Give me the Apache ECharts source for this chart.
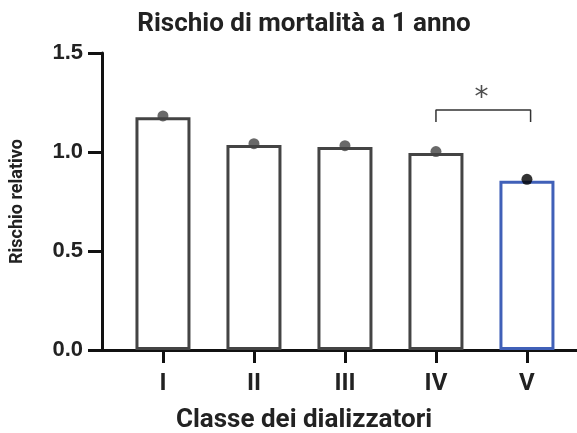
<!DOCTYPE html>
<html>
<head>
<meta charset="utf-8">
<script src="https://cdn.jsdelivr.net/npm/echarts@6/dist/echarts.min.js"></script>
<style>
  html, body { margin: 0; padding: 0; background: #fff; }
  #chart { width: 577px; height: 433px; }
</style>
</head>
<body>
<div id="chart"></div>
<script>
var categories = ['I', 'II', 'III', 'IV', 'V'];
var barValues = [1.175, 1.035, 1.025, 0.995, 0.855];
var pointValues = [1.182, 1.042, 1.032, 1.002, 0.862];
var bracket = [[3, 1.152], [3, 1.212], [4.04, 1.212], [4.04, 1.152]];
var starPos = [3.5, 1.27];

var gray = '#444';
var blue = '#4060b8';

var chart = echarts.init(document.getElementById('chart'));

var barData = barValues.map(function (v, i) {
    return {
        value: [i, v],
        itemStyle: { borderColor: i === 4 ? blue : gray }
    };
});
var dotData = pointValues.map(function (v, i) {
    return {
        value: [i, v],
        itemStyle: { color: i === 4 ? '#000' : gray }
    };
});

chart.setOption({
    animation: false,
    title: [{
        text: 'Rischio di mortalità a 1 anno',
        left: 304, top: 11, textAlign: 'center', padding: 0,
        textStyle: { fontFamily: 'Roboto', fontWeight: 'bold', fontSize: 26, color: '#222' }
    }, {
        text: 'Classe dei dializzatori',
        left: 304, top: 407, textAlign: 'center', padding: 0,
        textStyle: { fontFamily: 'Roboto', fontWeight: 'bold', fontSize: 26, color: '#222' }
    }],
    grid: { left: 101, right: 0, top: 53, bottom: 83 },
    xAxis: {
        type: 'value',
        min: -0.67, max: 4.55,
        splitLine: { show: false },
        axisLine: { show: true, onZero: false, lineStyle: { color: '#111', width: 3 } },
        axisTick: { show: true, customValues: [0, 1, 2, 3, 4], length: 13, lineStyle: { color: '#111', width: 3 } },
        axisLabel: {
            customValues: [0, 1, 2, 3, 4],
            formatter: function (v) { return categories[Math.round(v)]; },
            margin: 22,
            fontFamily: 'Roboto', fontWeight: 'bold', fontSize: 24, color: '#222'
        }
    },
    yAxis: {
        type: 'value',
        position: 'left',
        min: 0, max: 1.5, interval: 0.5,
        name: 'Rischio relativo',
        nameLocation: 'middle',
        nameGap: 76,
        nameTextStyle: { fontFamily: 'Roboto', fontWeight: 'bold', fontSize: 18, color: '#222' },
        splitLine: { show: false },
        axisLine: { show: true, onZero: false, lineStyle: { color: '#111', width: 3 } },
        axisTick: { show: true, length: 14, lineStyle: { color: '#111', width: 3 } },
        axisLabel: {
            formatter: function (v) { return v.toFixed(1); },
            margin: 19,
            fontFamily: 'Liberation Sans', fontWeight: 'bold', fontSize: 22, color: '#222'
        }
    },
    series: [{
        type: 'bar',
        data: barData,
        barWidth: 55,
        itemStyle: { color: '#fff', borderWidth: 3 }
    }, {
        type: 'scatter',
        data: dotData,
        symbolSize: 11,
        z: 5
    }, {
        type: 'line',
        data: bracket,
        symbol: 'none',
        lineStyle: { color: '#333', width: 1.5 }
    }, {
        type: 'scatter',
        data: [starPos],
        symbolSize: 0,
        label: {
            show: true, position: 'inside', formatter: '*',
            fontFamily: 'DejaVu Sans', fontWeight: 'normal', fontSize: 28, color: '#222'
        }
    }]
});
</script>
</body>
</html>
